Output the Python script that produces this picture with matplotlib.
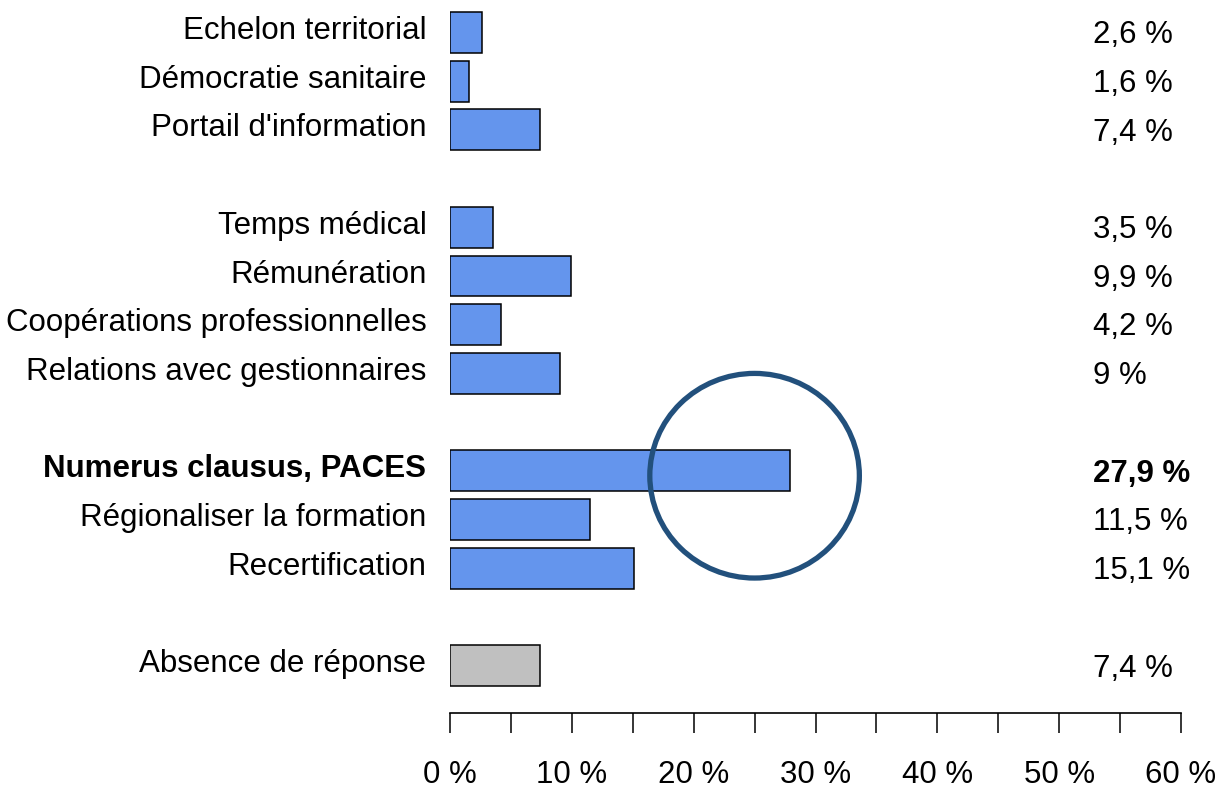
import numpy as np
import matplotlib
matplotlib.use("Agg")
import matplotlib.pyplot as plt
from matplotlib.patches import Ellipse

plt.rcParams['font.family'] = ['Liberation Sans', 'DejaVu Sans']

# données
groupes = [
    ["Echelon territorial", "Démocratie sanitaire", "Portail d'information"],
    ["Temps médical", "Rémunération", "Coopérations professionnelles",
     "Relations avec gestionnaires"],
    ["Numerus clausus, PACES", "Régionaliser la formation", "Recertification"],
    ["Absence de réponse"],
]
valeurs = [2.6, 1.6, 7.4, 3.5, 9.9, 4.2, 9.0, 27.9, 11.5, 15.1, 7.4]
etiquettes_val = ["2,6 %", "1,6 %", "7,4 %", "3,5 %", "9,9 %", "4,2 %", "9 %",
                  "27,9 %", "11,5 %", "15,1 %", "7,4 %"]
mis_en_avant = "Numerus clausus, PACES"
ticks_x = [0, 10, 20, 30, 40, 50, 60]

# positions des lignes (une ligne vide entre les groupes)
categories, pos = [], []
k = 0
for g in groupes:
    for c in g:
        categories.append(c)
        pos.append(k)
        k += 1
    k += 1
pos = np.array(pos)

couleurs = ['#6495ED'] * (len(valeurs) - 1) + ['#C0C0C0']

fig = plt.figure(figsize=(12.23, 7.9), dpi=100)
ax = fig.add_axes([450 / 1223, 77 / 790, 731 / 1223, 705 / 790])

ax.barh(pos, valeurs, height=0.84, color=couleurs, edgecolor='black', linewidth=1.1)

ax.set_xlim(0, 60)
ax.set_ylim(pos[-1] + 0.97, -0.5)

for sp in ['left', 'top', 'right']:
    ax.spines[sp].set_visible(False)
ax.spines['bottom'].set_linewidth(1.2)
ax.set_yticks([])
ax.set_xticks(np.arange(0, 61, 5))
ax.set_xticklabels([f"{t} %" if t in ticks_x else "" for t in np.arange(0, 61, 5)])
ax.tick_params(axis='x', direction='out', length=14.5, width=1.1, pad=19, labelsize=22.5)

for c, p, v, lab in zip(categories, pos, valeurs, etiquettes_val):
    poids = 'bold' if c == mis_en_avant else 'normal'
    ax.annotate(c, xy=(0, p), xytext=(-17, 1), textcoords='offset points',
                ha='right', va='center', fontsize=22.5, fontweight=poids,
                annotation_clip=False)
    ax.annotate(lab, xy=(52.8, p), xytext=(0, -2), textcoords='offset points',
                ha='left', va='center', fontsize=22.5, fontweight=poids,
                annotation_clip=False)

# cercle de mise en évidence
cercle = Ellipse((25.0, 9.1), width=17.2, height=4.2, fill=False,
                 edgecolor='#22507c', linewidth=3.8, clip_on=False)
ax.add_patch(cercle)

plt.savefig("out.png", dpi=100)
